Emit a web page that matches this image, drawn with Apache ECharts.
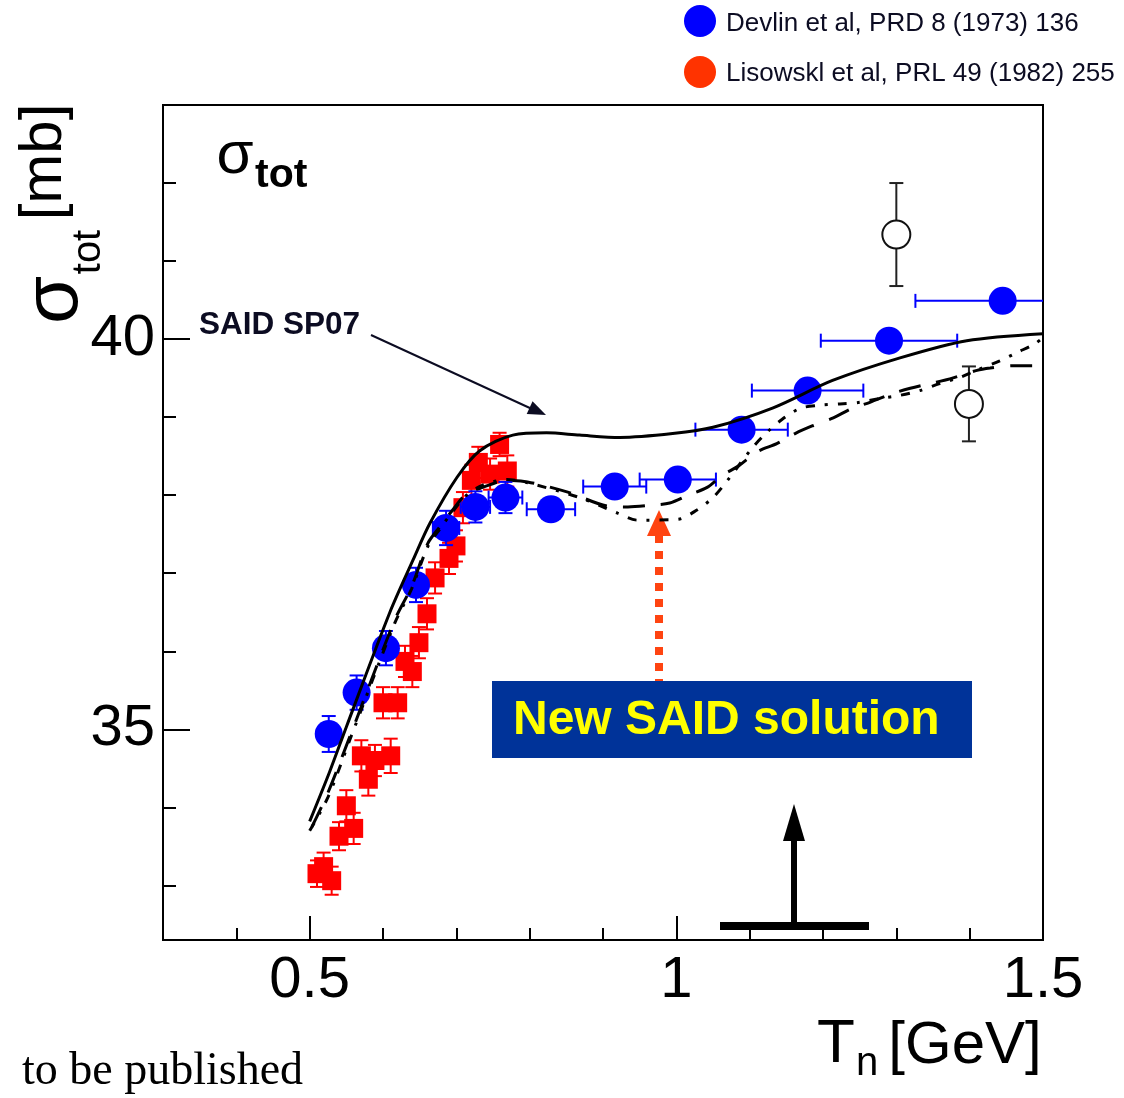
<!DOCTYPE html>
<html>
<head>
<meta charset="utf-8">
<script src="https://cdn.jsdelivr.net/npm/echarts@6/dist/echarts.min.js"></script>
<style>
  html, body { margin: 0; padding: 0; background: #fff; }
  #chart { width: 1124px; height: 1098px; }
</style>
</head>
<body>
<div id="chart"></div>
<script>
// Devlin et al, PRD 8 (1973) 136 : T_n [GeV], sigma_tot [mb], errors
const devlinT      = [0.526, 0.564, 0.604, 0.645, 0.686, 0.726, 0.767, 0.829, 0.916, 1.002, 1.089, 1.179, 1.290, 1.445];
const devlinSig    = [34.94, 35.47, 36.04, 36.85, 37.58, 37.85, 37.97, 37.82, 38.11, 38.20, 38.84, 39.34, 39.98, 40.49];
const devlinSigErr = [0.23, 0.22, 0.22, 0.22, 0.22, 0.20, 0.20, 0.12, 0.12, 0.12, 0.12, 0.12, 0.12, 0.12];
const devlinTErr   = [0, 0, 0, 0, 0.018, 0.020, 0.023, 0.033, 0.043, 0.052, 0.063, 0.076, 0.093, 0.119];

// Lisowski et al, PRL 49 (1982) 255
const lisowskiT      = [0.510, 0.519, 0.530, 0.540, 0.550, 0.560, 0.5705, 0.580, 0.589, 0.600, 0.6105, 0.620, 0.630, 0.640, 0.649, 0.660, 0.671, 0.690, 0.6995, 0.709, 0.7205, 0.730, 0.746, 0.759, 0.7695];
const lisowskiSig    = [33.15, 33.24, 33.06, 33.63, 34.02, 33.73, 34.66, 34.36, 34.60, 35.34, 34.66, 35.34, 35.87, 35.74, 36.11, 36.48, 36.94, 37.19, 37.35, 37.84, 38.19, 38.42, 38.27, 38.65, 38.31];
const lisowskiSigErr = [0.17, 0.18, 0.18, 0.18, 0.20, 0.20, 0.20, 0.21, 0.20, 0.20, 0.22, 0.20, 0.20, 0.20, 0.20, 0.20, 0.20, 0.20, 0.20, 0.20, 0.20, 0.20, 0.20, 0.15, 0.20];

// Additional measurements (open circles)
const openT      = [1.300, 1.399];
const openSig    = [41.34, 39.17];
const openSigErr = [0.66, 0.48];

// SAID SP07 (solid)
const sp07T   = [0.500, 0.527, 0.550, 0.609, 0.641, 0.664, 0.701, 0.732, 0.777, 0.823, 0.868, 0.923, 0.995, 1.050, 1.132, 1.213, 1.305, 1.396, 1.500];
const sp07Sig = [33.82, 34.45, 35.03, 36.49, 37.17, 37.64, 38.23, 38.57, 38.77, 38.80, 38.77, 38.74, 38.79, 38.87, 39.12, 39.47, 39.76, 39.98, 40.07];

// New SAID solution (dashed)
const newAT   = [0.503, 0.525, 0.557, 0.616, 0.639, 0.661, 0.677, 0.695, 0.714, 0.736, 0.769, 0.797, 0.852, 0.907, 0.934, 0.964, 0.991, 1.016, 1.042, 1.062, 1.084, 1.111, 1.137, 1.162, 1.186, 1.214, 1.239, 1.264, 1.294, 1.319, 1.346, 1.373, 1.410, 1.428, 1.458, 1.500];
const newASig = [33.75, 34.19, 34.96, 36.40, 36.83, 37.38, 37.59, 37.81, 38.02, 38.10, 38.19, 38.17, 38.04, 37.86, 37.85, 37.87, 37.90, 38.00, 38.10, 38.25, 38.37, 38.56, 38.66, 38.79, 38.89, 38.99, 39.11, 39.19, 39.30, 39.37, 39.43, 39.49, 39.60, 39.63, 39.66, 39.66];

// New SAID solution (dash-dot)
const newBT   = [0.500, 0.525, 0.557, 0.616, 0.639, 0.661, 0.677, 0.695, 0.714, 0.736, 0.769, 0.797, 0.868, 0.920, 0.947, 1.002, 1.028, 1.050, 1.069, 1.103, 1.123, 1.144, 1.168, 1.192, 1.223, 1.250, 1.278, 1.305, 1.332, 1.359, 1.387, 1.414, 1.441, 1.465, 1.489, 1.500];
const newBSig = [33.70, 34.13, 34.92, 36.36, 36.80, 37.34, 37.56, 37.79, 38.00, 38.13, 38.20, 38.16, 37.97, 37.77, 37.68, 37.69, 37.81, 37.97, 38.18, 38.60, 38.80, 38.97, 39.11, 39.15, 39.17, 39.19, 39.24, 39.28, 39.34, 39.43, 39.51, 39.62, 39.72, 39.83, 39.94, 40.02];

// Axis ticks
const xMajorTicks = [0.5, 1, 1.5];
const xMinorTicks = [0.4, 0.6, 0.7, 0.8, 0.9, 1.1, 1.2, 1.3, 1.4];
const yMajorTicks = [35, 40];
const yMinorTicks = [33, 34, 36, 37, 38, 39, 41, 42];

const FONT = 'Liberation Sans, Arial, Helvetica, sans-serif';
const BLUE = '#0000ff';
const RED = '#ff0000';
const INK = '#0c0c22';

const zip = (a, b) => a.map((v, i) => [v, b[i]]);

function errorBars(color, capHalf) {
  return function (params, api) {
    const x = api.value(0), y = api.value(1), ey = api.value(2), ex = api.value(3);
    const c = api.coord([x, y]);
    const st = { stroke: color, lineWidth: 2 };
    const kids = [];
    if (ey > 0) {
      const t = api.coord([x, y + ey]), b = api.coord([x, y - ey]);
      kids.push({ type: 'line', shape: { x1: c[0], y1: t[1], x2: c[0], y2: b[1] }, style: st });
      kids.push({ type: 'line', shape: { x1: c[0] - capHalf, y1: t[1], x2: c[0] + capHalf, y2: t[1] }, style: st });
      kids.push({ type: 'line', shape: { x1: c[0] - capHalf, y1: b[1], x2: c[0] + capHalf, y2: b[1] }, style: st });
    }
    if (ex > 0) {
      const l = api.coord([x - ex, y]), r = api.coord([x + ex, y]);
      kids.push({ type: 'line', shape: { x1: l[0], y1: c[1], x2: r[0], y2: c[1] }, style: st });
      kids.push({ type: 'line', shape: { x1: l[0], y1: c[1] - capHalf, x2: l[0], y2: c[1] + capHalf }, style: st });
      kids.push({ type: 'line', shape: { x1: r[0], y1: c[1] - capHalf, x2: r[0], y2: c[1] + capHalf }, style: st });
    }
    return { type: 'group', children: kids };
  };
}

function arrowHead(tipX, tipY, fromX, fromY, len, halfW) {
  const dx = tipX - fromX, dy = tipY - fromY;
  const d = Math.sqrt(dx * dx + dy * dy);
  const ux = dx / d, uy = dy / d;
  const bx = tipX - ux * len, by = tipY - uy * len;
  return [[tipX, tipY], [bx - uy * halfW, by + ux * halfW], [bx + uy * halfW, by - ux * halfW]];
}

const chart = echarts.init(document.getElementById('chart'), null, { renderer: 'canvas' });

const axisLineStyle = { color: '#000', width: 2 };

const option = {
  animation: false,
  backgroundColor: '#fff',
  grid: {
    left: 163, right: 81, top: 105, bottom: 158,
    show: true, borderColor: '#000', borderWidth: 2, backgroundColor: 'transparent'
  },
  xAxis: [
    {
      type: 'value', min: 0.3, max: 1.5, position: 'bottom',
      axisLine: { show: true, lineStyle: axisLineStyle },
      axisTick: { show: true, inside: true, length: 24, customValues: xMajorTicks, lineStyle: axisLineStyle },
      axisLabel: { show: true, customValues: xMajorTicks, fontSize: 58, fontFamily: FONT, color: '#000', margin: 12,
                   formatter: v => String(v) },
      splitLine: { show: false }
    },
    {
      type: 'value', min: 0.3, max: 1.5, position: 'bottom',
      axisLine: { show: false },
      axisTick: { show: true, inside: true, length: 12, customValues: xMinorTicks, lineStyle: axisLineStyle },
      axisLabel: { show: false },
      splitLine: { show: false }
    }
  ],
  yAxis: [
    {
      type: 'value', min: 32.3, max: 43, position: 'left',
      axisLine: { show: true, lineStyle: axisLineStyle },
      axisTick: { show: true, inside: true, length: 27, customValues: yMajorTicks, lineStyle: axisLineStyle },
      axisLabel: { show: true, customValues: yMajorTicks, fontSize: 58, fontFamily: FONT, color: '#000', margin: 8 },
      splitLine: { show: false }
    },
    {
      type: 'value', min: 32.3, max: 43, position: 'left',
      axisLine: { show: false },
      axisTick: { show: true, inside: true, length: 13, customValues: yMinorTicks, lineStyle: axisLineStyle },
      axisLabel: { show: false },
      splitLine: { show: false }
    }
  ],
  series: [
    {
      name: 'Lisowski errors', type: 'custom', clip: true, z: 2,
      renderItem: errorBars(RED, 7),
      encode: { x: 0, y: 1 },
      data: lisowskiT.map((t, i) => [t, lisowskiSig[i], lisowskiSigErr[i], 0])
    },
    {
      name: 'Lisowskl et al, PRL 49 (1982) 255', type: 'scatter', z: 3,
      symbol: 'rect', symbolSize: 19,
      itemStyle: { color: RED, opacity: 1 },
      data: zip(lisowskiT, lisowskiSig)
    },
    {
      name: 'Devlin errors', type: 'custom', clip: true, z: 4,
      renderItem: errorBars(BLUE, 7),
      encode: { x: 0, y: 1 },
      data: devlinT.map((t, i) => [t, devlinSig[i], devlinSigErr[i], devlinTErr[i]])
    },
    {
      name: 'Devlin et al, PRD 8 (1973) 136', type: 'scatter', z: 5,
      symbol: 'circle', symbolSize: 28,
      itemStyle: { color: BLUE, opacity: 1 },
      data: zip(devlinT, devlinSig)
    },
    {
      name: 'Other errors', type: 'custom', clip: true, z: 4,
      renderItem: errorBars('#222', 7),
      encode: { x: 0, y: 1 },
      data: openT.map((t, i) => [t, openSig[i], openSigErr[i], 0])
    },
    {
      name: 'Other data', type: 'scatter', z: 5,
      symbol: 'circle', symbolSize: 28,
      itemStyle: { color: '#fff', borderColor: '#111', borderWidth: 2, opacity: 1 },
      data: zip(openT, openSig)
    },
    {
      name: 'SAID SP07', type: 'line', z: 6, smooth: 0.3, showSymbol: false,
      lineStyle: { color: '#000', width: 3, type: 'solid' },
      data: zip(sp07T, sp07Sig)
    },
    {
      name: 'New SAID solution A', type: 'line', z: 6, smooth: 0.3, showSymbol: false,
      lineStyle: { color: '#000', width: 3, type: [22, 16] },
      data: zip(newAT, newASig)
    },
    {
      name: 'New SAID solution B', type: 'line', z: 6, smooth: 0.3, showSymbol: false,
      lineStyle: { color: '#000', width: 3, type: [9, 10, 3, 10] },
      data: zip(newBT, newBSig)
    }
  ],
  graphic: [
    // legend
    { type: 'circle', shape: { cx: 700, cy: 21, r: 16 }, style: { fill: BLUE } },
    { type: 'text', x: 726, y: 24, style: { text: 'Devlin et al, PRD 8 (1973) 136', fontSize: 26, fontFamily: FONT, fill: INK, align: 'left', verticalAlign: 'middle' } },
    { type: 'circle', shape: { cx: 700, cy: 72, r: 16 }, style: { fill: '#ff3300' } },
    { type: 'text', x: 726, y: 74, style: { text: 'Lisowskl et al, PRL 49 (1982) 255', fontSize: 26, fontFamily: FONT, fill: INK, align: 'left', verticalAlign: 'middle' } },

    // y-axis title
    { type: 'text', x: 55, y: 300, rotation: Math.PI / 2, style: { text: 'σ', fontSize: 78, fontFamily: FONT, fill: '#000', align: 'center', verticalAlign: 'middle' } },
    { type: 'text', x: 89, y: 252, rotation: Math.PI / 2, style: { text: 'tot', fontSize: 40, fontFamily: FONT, fill: '#000', align: 'center', verticalAlign: 'middle' } },
    { type: 'text', x: 44, y: 162, rotation: Math.PI / 2, style: { text: '[mb]', fontSize: 60, fontFamily: FONT, fill: '#000', align: 'center', verticalAlign: 'middle' } },

    // x-axis title
    { type: 'text', x: 836, y: 1045, style: { text: 'T', fontSize: 62, fontFamily: FONT, fill: '#000', align: 'center', verticalAlign: 'middle' } },
    { type: 'text', x: 867, y: 1064, style: { text: 'n', fontSize: 40, fontFamily: FONT, fill: '#000', align: 'center', verticalAlign: 'middle' } },
    { type: 'text', x: 965, y: 1046, style: { text: '[GeV]', fontSize: 60, fontFamily: FONT, fill: '#000', align: 'center', verticalAlign: 'middle' } },

    // in-plot title
    { type: 'text', x: 235, y: 156, style: { text: 'σ', fontSize: 60, fontFamily: FONT, fill: '#000', align: 'center', verticalAlign: 'middle' } },
    { type: 'text', x: 255, y: 176, style: { text: 'tot', fontSize: 41, fontWeight: 'bold', fontFamily: FONT, fill: '#000', align: 'left', verticalAlign: 'middle' } },

    // SAID SP07 annotation
    { type: 'text', x: 199, y: 325, style: { text: 'SAID SP07', fontSize: 31.5, fontWeight: 'bold', fontFamily: FONT, fill: INK, align: 'left', verticalAlign: 'middle' } },
    { type: 'line', shape: { x1: 371, y1: 335, x2: 532, y2: 409 }, style: { stroke: INK, lineWidth: 2 } },
    { type: 'polygon', shape: { points: arrowHead(546, 415, 371, 335, 18, 7) }, style: { fill: INK } },

    // new solution pointer
    { type: 'line', shape: { x1: 659, y1: 535, x2: 659, y2: 681 }, style: { stroke: '#ff4411', lineWidth: 8, lineDash: [8, 8] } },
    { type: 'polygon', shape: { points: [[659, 510], [647, 536], [671, 536]] }, style: { fill: '#ff4411' } },
    { type: 'rect', shape: { x: 492, y: 681, width: 480, height: 77 }, style: { fill: '#003399' } },
    { type: 'text', x: 513, y: 721, style: { text: 'New SAID solution', fontSize: 48, fontWeight: 'bold', fontFamily: FONT, fill: '#ffff00', align: 'left', verticalAlign: 'middle' } },

    // energy marker at the bottom
    { type: 'rect', shape: { x: 720, y: 922, width: 149, height: 8 }, style: { fill: '#000' } },
    { type: 'rect', shape: { x: 791, y: 838, width: 6, height: 88 }, style: { fill: '#000' } },
    { type: 'polygon', shape: { points: [[794, 804], [783, 841], [805, 841]] }, style: { fill: '#000' } },

    // footer
    { type: 'text', x: 22, y: 1072, style: { text: 'to be published', fontSize: 46, fontFamily: 'Liberation Serif, Times New Roman, serif', fill: '#000', align: 'left', verticalAlign: 'middle' } }
  ]
};

chart.setOption(option);
</script>
</body>
</html>
